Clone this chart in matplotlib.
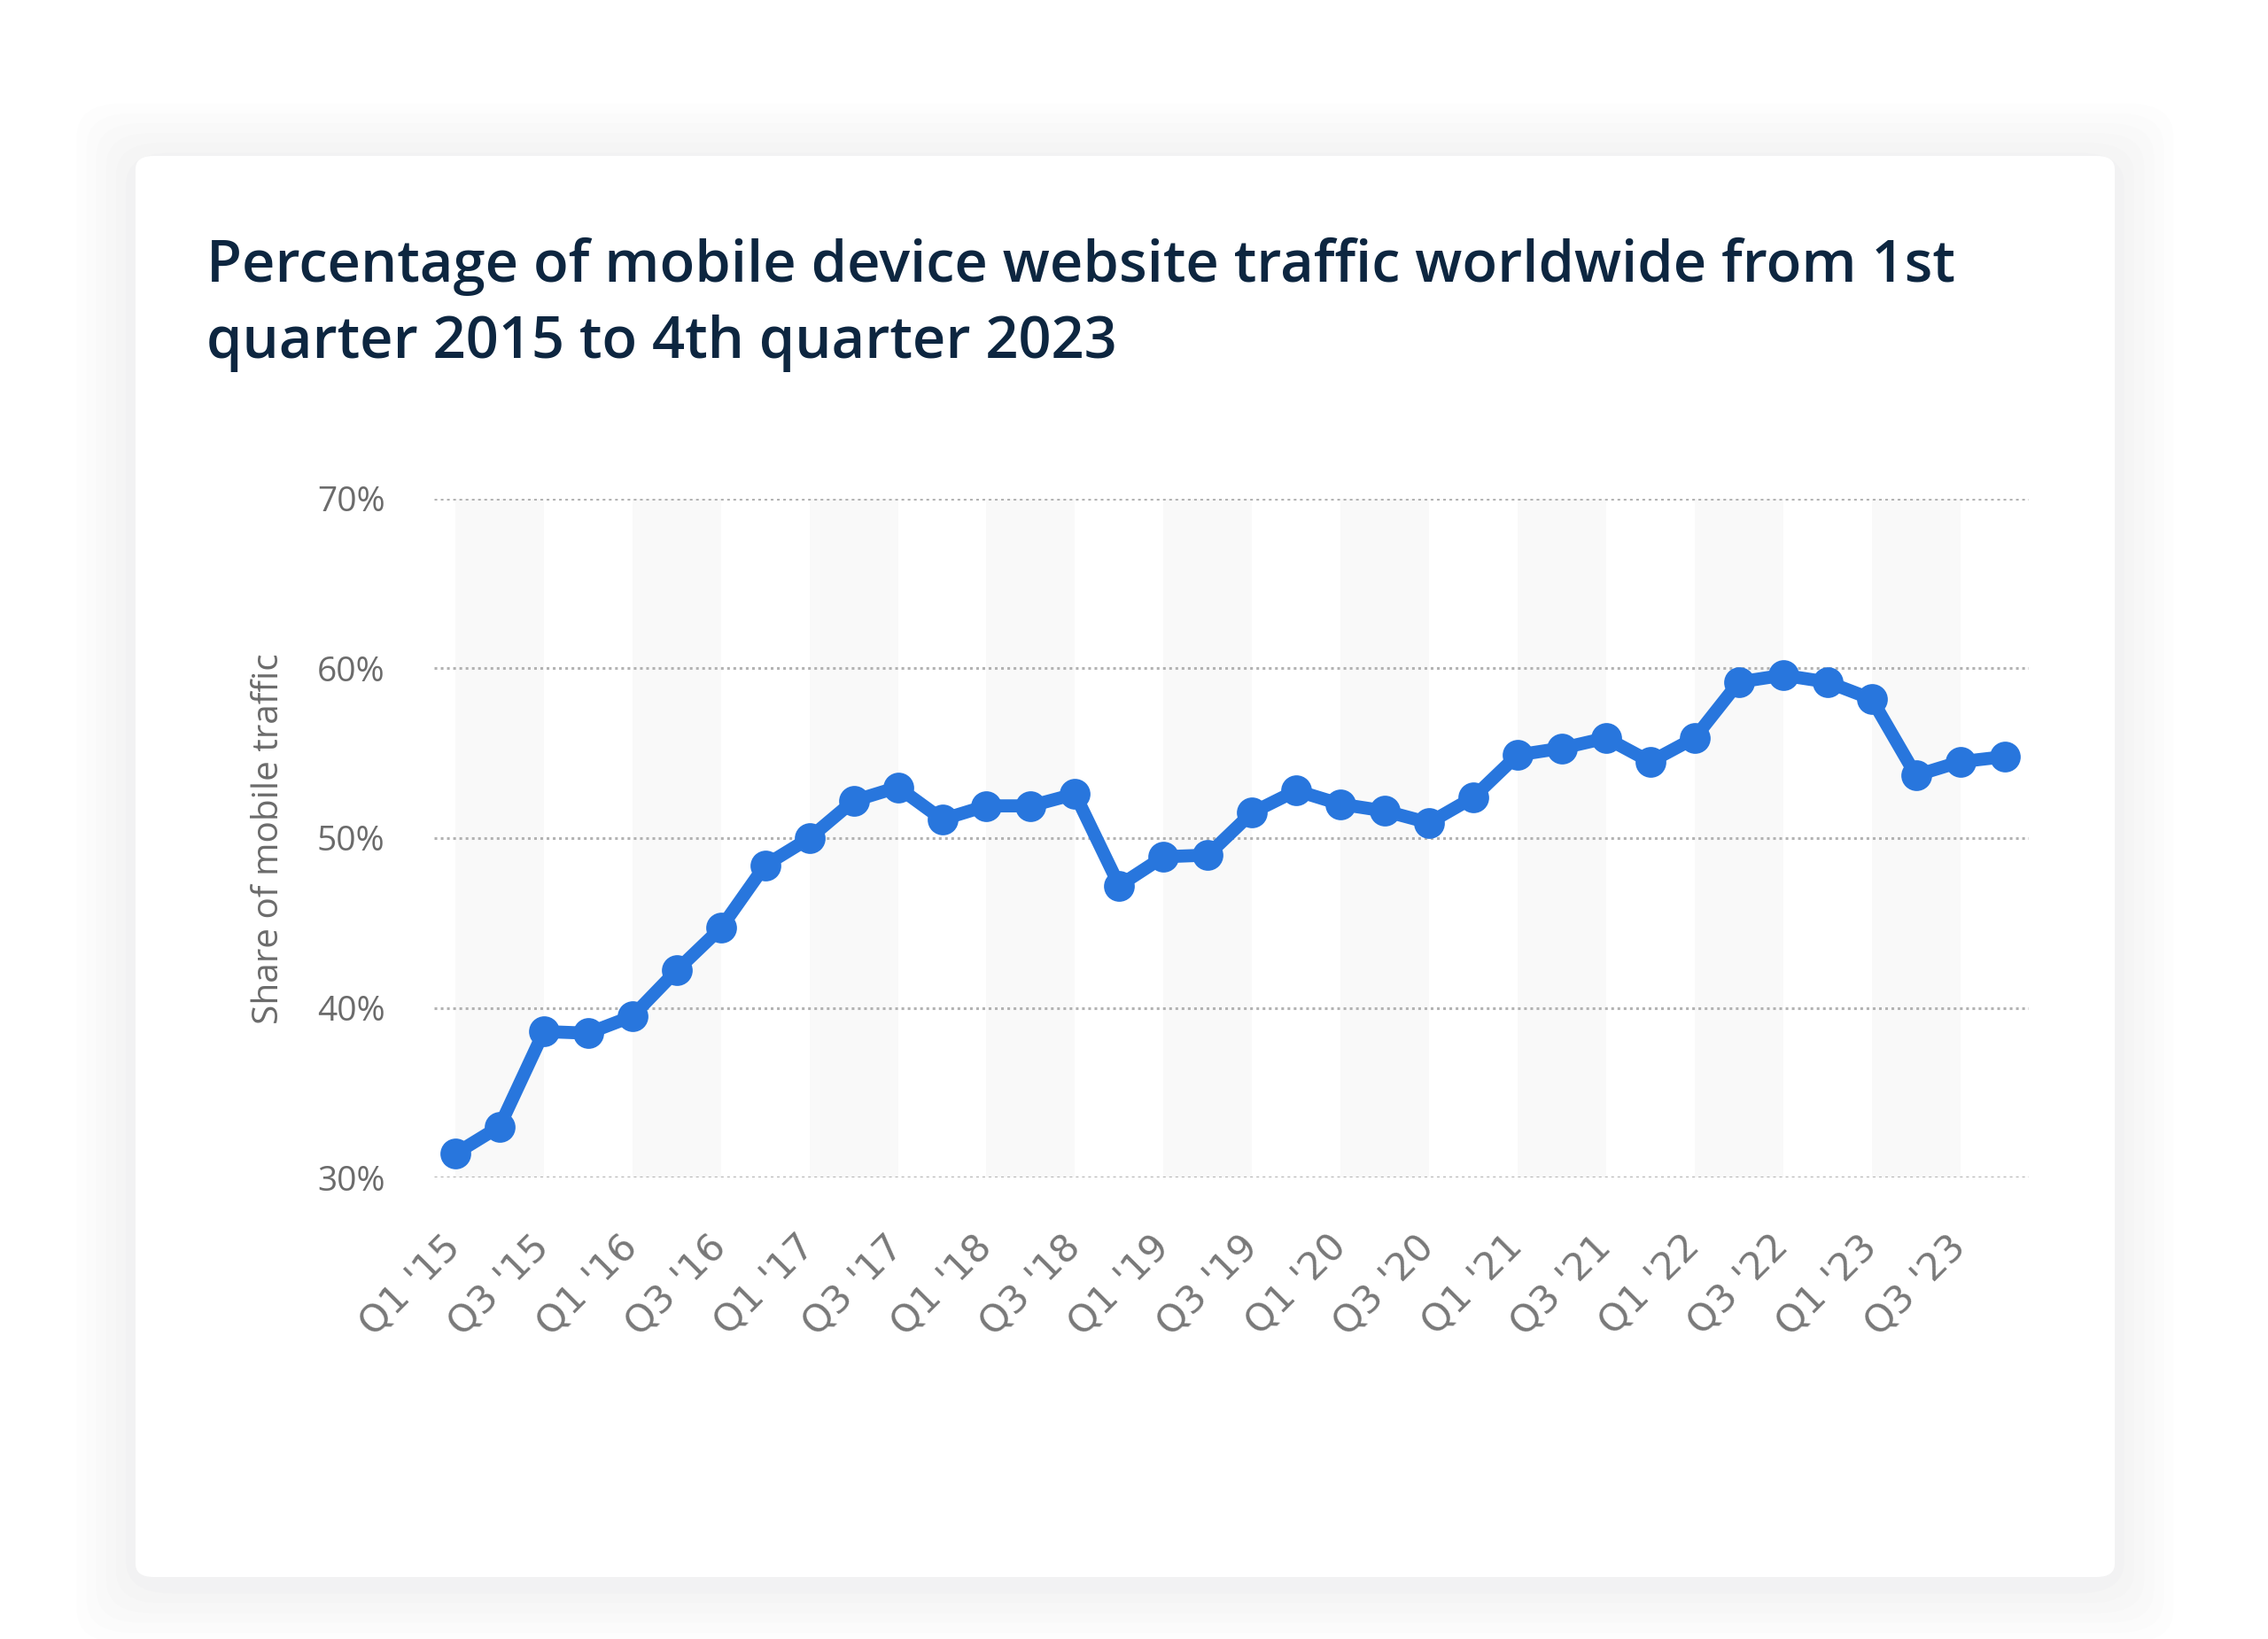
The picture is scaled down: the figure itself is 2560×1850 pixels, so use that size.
# モジュールインポート-------------------------------------------------------
import numpy as np
import matplotlib.pyplot as plt
from matplotlib.patches import FancyBboxPatch

# データ-----------------------------------------------------------------------
quarters = [f"Q{q} '{y}" for y in range(15, 24) for q in (1, 2, 3, 4)]
mobile_share = [31.4, 33.0, 38.6, 38.5, 39.5, 42.2, 44.7, 48.4,
                50.0, 52.2, 53.0, 51.1, 51.9, 51.9, 52.6, 47.2,
                48.9, 49.0, 51.5, 52.8, 52.0, 51.6, 50.9, 52.4,
                54.9, 55.3, 55.9, 54.5, 55.9, 59.2, 59.6, 59.2,
                58.2, 53.7, 54.5, 54.8]
y_ticks = [30, 40, 50, 60, 70]

title = ('Percentage of mobile device website traffic worldwide from 1st\n'
         'quarter 2015 to 4th quarter 2023')

# 図の準備---------------------------------------------------------------------
plt.rcParams['font.family'] = ['Open Sans', 'DejaVu Sans']
W, H, DPI = 2560, 1850, 200
fig = plt.figure(figsize=(W / DPI, H / DPI), dpi=DPI, facecolor='white')

# カードの影と本体
card = (153 / W, 1 - 1780 / H, (2387 - 153) / W, (1780 - 176) / H)
for i, a in enumerate([0.012, 0.012, 0.012, 0.014, 0.016, 0.02]):
    g = (6 - i) * 0.006
    fig.patches.append(FancyBboxPatch(
        (card[0] - g * 0.72, card[1] - g - 0.004), card[2] + 2 * g * 0.72, card[3] + 2 * g,
        boxstyle='round,pad=0,rounding_size=0.02', transform=fig.transFigure,
        facecolor='#7a8090', edgecolor='none', alpha=a, zorder=0))
fig.patches.append(FancyBboxPatch(
    (card[0], card[1]), card[2], card[3],
    boxstyle='round,pad=0,rounding_size=0.008', transform=fig.transFigure,
    facecolor='white', edgecolor='none', zorder=1))

# タイトル
fig.text(233 / W, 1 - 268 / H, title, ha='left', va='top', fontsize=23.4,
         fontweight='semibold', color='#0d2640', linespacing=1.42, zorder=3)

# グラフ出力-------------------------------------------------------------------
ax = fig.add_axes([490 / W, 1 - 1329 / H, (2290 - 490) / W, (1329 - 563) / H])
ax.set_zorder(2)
ax.set_facecolor('none')
x = np.arange(len(quarters))

# 交互の背景帯
for s in range(0, len(quarters), 4):
    ax.axvspan(s, s + 2, color='#f9f9f9', lw=0, zorder=0)

ax.plot(x, mobile_share, color='#2876dd', lw=5.3, marker='o', markersize=11.5,
        solid_joinstyle='round', solid_capstyle='round', clip_on=False, zorder=3)

ax.set_xlim(-0.48, len(quarters) - 0.45)
ax.set_ylim(30, 70)
ax.set_yticks(y_ticks)
ax.set_yticklabels([f'{v}%' for v in y_ticks])
ax.yaxis.grid(True, linestyle=(0, (1, 1.3)), color='#b3b3b3', lw=1.1)
ax.set_axisbelow(True)

ax.set_xticks(x[::2])
ax.set_xticklabels(quarters[::2], rotation=45, ha='right', va='center',
                   rotation_mode='anchor', family='DejaVu Sans')
ax.tick_params(axis='y', length=0, pad=20, labelsize=14, labelcolor='#6b6b6b')
ax.tick_params(axis='x', length=0, pad=26, labelsize=15.5, labelcolor='#787878')
for sp in ax.spines.values():
    sp.set_visible(False)

fig.text(304 / W, 1 - 947 / H, 'Share of mobile traffic', rotation=90,
         ha='center', va='center', fontsize=14.6, color='#6b6b6b', zorder=3)

plt.savefig('out.png', dpi=DPI, facecolor='white')
